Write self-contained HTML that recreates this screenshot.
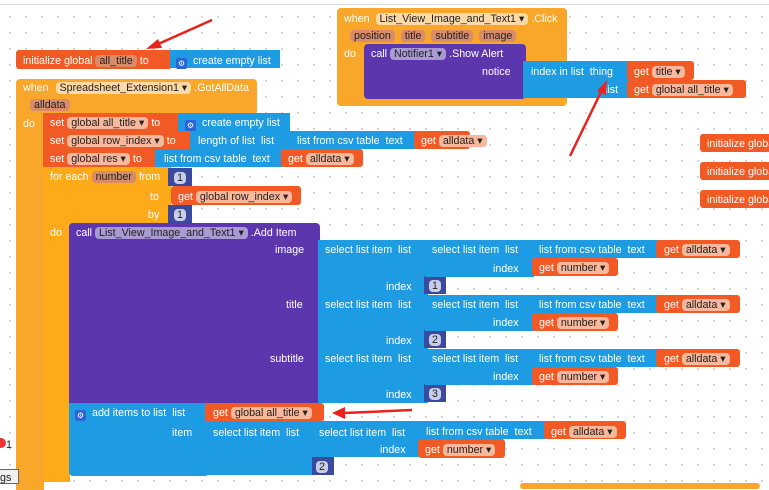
<!DOCTYPE html>
<html><head><meta charset="utf-8"><style>
body{margin:0;width:769px;height:486px;overflow:hidden;background:#fff;position:relative;font-family:"Liberation Sans",sans-serif;font-size:10.7px;color:#fff}
.bg{position:absolute;left:0;top:5px;width:769px;height:481px;background-image:radial-gradient(circle,#cfcfcf 0.9px,transparent 1.2px);background-size:16px 16px;background-position:2px 4px}
.top{position:absolute;left:0;top:4px;width:769px;height:1px;background:#ddd}
div.b{position:absolute;box-sizing:border-box}
.o{background:#f8a72a;border-radius:4px}
.f{background:#ffab19}
.r{background:#f15a24;border-radius:3px}
.u{background:#1e9ce3}
.p{background:#5c36ad;border-radius:4px}
.n{background:#3b4a9e}
.t{position:absolute;white-space:nowrap;line-height:12px;margin-top:1px}
.pl{display:inline-block;padding:0 4px;border-radius:4px;line-height:12px;color:#222}
.po{background:#fdd9a6}.pr{background:#f9b79c}.pp{background:#a99ad4}.pn{background:#c8cde8;color:#222;padding:0 3px}
.pe{background:#d98b6a;color:#222}
.ic{display:inline-block;width:11px;height:11px;background:#2d62d8;border-radius:2px;vertical-align:-2px;margin-right:6px;text-align:center;font-size:8px;line-height:11px}
</style></head><body>
<div class="bg"></div><div class="top"></div>

<div class="b r" style="left:16px;top:50px;width:156px;height:19px"></div>
<div class="t" style="left:23px;top:54px">initialize global <span class="pl pe">all_title</span> to</div>
<div class="b u" style="left:170px;top:50px;width:110px;height:18px"></div>
<div class="t" style="left:176px;top:54px"><span class="ic">⚙</span>create empty list</div>

<div class="b o" style="left:16px;top:79px;width:241px;height:36px"></div>
<div class="b o" style="left:16px;top:100px;width:28px;height:390px;border-radius:0"></div>
<div class="t" style="left:23px;top:81px">when <span class="pl po" style="margin-left:4px">Spreadsheet_Extension1 ▾</span> .GotAllData</div>
<div class="t" style="left:30px;top:98px"><span class="pl pe">alldata</span></div>
<div class="t" style="left:23px;top:117px">do</div>

<div class="b r" style="left:43px;top:113px;width:137px;height:18px;border-radius:0"></div>
<div class="t" style="left:50px;top:116px">set <span class="pl pr">global all_title ▾</span> to</div>
<div class="b u" style="left:178px;top:113px;width:112px;height:18px"></div>
<div class="t" style="left:185px;top:116px"><span class="ic">⚙</span>create empty list</div>

<div class="b r" style="left:43px;top:131px;width:150px;height:18px;border-radius:0"></div>
<div class="t" style="left:50px;top:134px">set <span class="pl pr">global row_index ▾</span> to</div>
<div class="b u" style="left:190px;top:131px;width:102px;height:18px"></div>
<div class="t" style="left:198px;top:134px">length of list &nbsp;list</div>
<div class="b u" style="left:290px;top:131px;width:126px;height:18px"></div>
<div class="t" style="left:297px;top:134px">list from csv table &nbsp;text</div>
<div class="b r" style="left:414px;top:131px;width:56px;height:18px"></div>
<div class="t" style="left:421px;top:134px">get <span class="pl pr">alldata ▾</span></div>

<div class="b r" style="left:43px;top:149px;width:115px;height:18px;border-radius:0"></div>
<div class="t" style="left:50px;top:152px">set <span class="pl pr">global res ▾</span> to</div>
<div class="b u" style="left:155px;top:149px;width:128px;height:18px"></div>
<div class="t" style="left:164px;top:152px">list from csv table &nbsp;text</div>
<div class="b r" style="left:281px;top:149px;width:82px;height:18px"></div>
<div class="t" style="left:288px;top:152px">get <span class="pl pr">alldata ▾</span></div>

<div class="b f" style="left:43px;top:167px;width:128px;height:58px"></div>
<div class="b f" style="left:43px;top:220px;width:27px;height:262px"></div>
<div class="t" style="left:50px;top:170px">for each <span class="pl pe">number</span> from</div>
<div class="b n" style="left:168px;top:168px;width:24px;height:18px"></div>
<div class="t" style="left:174px;top:171px"><span class="pl pn">1</span></div>
<div class="t" style="left:150px;top:190px">to</div>
<div class="b r" style="left:171px;top:186px;width:130px;height:19px"></div>
<div class="t" style="left:178px;top:190px">get <span class="pl pr">global row_index ▾</span></div>
<div class="t" style="left:148px;top:208px">by</div>
<div class="b n" style="left:168px;top:205px;width:24px;height:18px"></div>
<div class="t" style="left:174px;top:208px"><span class="pl pn">1</span></div>
<div class="t" style="left:50px;top:226px">do</div>

<div class="b p" style="left:69px;top:223px;width:251px;height:182px;border-radius:4px 4px 0 0"></div>
<div class="t" style="left:76px;top:226px">call <span class="pl pp">List_View_Image_and_Text1 ▾</span> .Add Item</div>
<div class="t" style="left:275px;top:243px">image</div>
<div class="t" style="left:286px;top:298px">title</div>
<div class="t" style="left:270px;top:352px">subtitle</div>

<div class="b u" style="left:318px;top:240px;width:110px;height:55px"></div>
<div class="t" style="left:325px;top:243px">select list item &nbsp;list</div>
<div class="t" style="left:386px;top:280px">index</div>
<div class="b n" style="left:424px;top:276px;width:22px;height:18px"></div><div class="t" style="left:429px;top:279px"><span class="pl pn">1</span></div>
<div class="b u" style="left:425px;top:240px;width:109px;height:37px"></div>
<div class="t" style="left:432px;top:243px">select list item &nbsp;list</div>
<div class="t" style="left:493px;top:262px">index</div>
<div class="b u" style="left:532px;top:240px;width:127px;height:18px"></div>
<div class="t" style="left:539px;top:243px">list from csv table &nbsp;text</div>
<div class="b r" style="left:656px;top:240px;width:84px;height:18px"></div>
<div class="t" style="left:664px;top:243px">get <span class="pl pr">alldata ▾</span></div>
<div class="b r" style="left:532px;top:258px;width:86px;height:18px"></div>
<div class="t" style="left:539px;top:261px">get <span class="pl pr">number ▾</span></div>

<div class="b u" style="left:318px;top:295px;width:110px;height:54px"></div>
<div class="t" style="left:325px;top:298px">select list item &nbsp;list</div>
<div class="t" style="left:386px;top:334px">index</div>
<div class="b n" style="left:424px;top:330px;width:22px;height:18px"></div><div class="t" style="left:429px;top:333px"><span class="pl pn">2</span></div>
<div class="b u" style="left:425px;top:295px;width:109px;height:36px"></div>
<div class="t" style="left:432px;top:298px">select list item &nbsp;list</div>
<div class="t" style="left:493px;top:316px">index</div>
<div class="b u" style="left:532px;top:295px;width:127px;height:18px"></div>
<div class="t" style="left:539px;top:298px">list from csv table &nbsp;text</div>
<div class="b r" style="left:656px;top:295px;width:84px;height:18px"></div>
<div class="t" style="left:664px;top:298px">get <span class="pl pr">alldata ▾</span></div>
<div class="b r" style="left:532px;top:313px;width:86px;height:18px"></div>
<div class="t" style="left:539px;top:316px">get <span class="pl pr">number ▾</span></div>

<div class="b u" style="left:318px;top:349px;width:110px;height:54px"></div>
<div class="t" style="left:325px;top:352px">select list item &nbsp;list</div>
<div class="t" style="left:386px;top:388px">index</div>
<div class="b n" style="left:424px;top:384px;width:22px;height:18px"></div><div class="t" style="left:429px;top:387px"><span class="pl pn">3</span></div>
<div class="b u" style="left:425px;top:349px;width:109px;height:36px"></div>
<div class="t" style="left:432px;top:352px">select list item &nbsp;list</div>
<div class="t" style="left:493px;top:370px">index</div>
<div class="b u" style="left:532px;top:349px;width:127px;height:18px"></div>
<div class="t" style="left:539px;top:352px">list from csv table &nbsp;text</div>
<div class="b r" style="left:656px;top:349px;width:84px;height:18px"></div>
<div class="t" style="left:664px;top:352px">get <span class="pl pr">alldata ▾</span></div>
<div class="b r" style="left:532px;top:367px;width:86px;height:18px"></div>
<div class="t" style="left:539px;top:370px">get <span class="pl pr">number ▾</span></div>

<div class="b u" style="left:69px;top:403px;width:140px;height:73px;border-radius:0 0 4px 4px"></div>
<div class="t" style="left:75px;top:406px"><span class="ic">⚙</span>add items to list &nbsp;list</div>
<div class="b r" style="left:205px;top:403px;width:119px;height:19px"></div>
<div class="t" style="left:213px;top:406px">get <span class="pl pr">global all_title ▾</span></div>
<div class="t" style="left:172px;top:426px">item</div>
<div class="t" style="left:274px;top:461px">index</div>
<div class="b u" style="left:205px;top:421px;width:110px;height:54px"></div>
<div class="t" style="left:213px;top:426px">select list item &nbsp;list</div>
<div class="b n" style="left:312px;top:457px;width:22px;height:18px"></div><div class="t" style="left:316px;top:460px"><span class="pl pn">2</span></div>
<div class="b u" style="left:312px;top:421px;width:110px;height:36px"></div>
<div class="t" style="left:319px;top:426px">select list item &nbsp;list</div>
<div class="t" style="left:380px;top:443px">index</div>
<div class="b u" style="left:419px;top:421px;width:127px;height:18px"></div>
<div class="t" style="left:426px;top:425px">list from csv table &nbsp;text</div>
<div class="b r" style="left:544px;top:421px;width:82px;height:18px"></div>
<div class="t" style="left:551px;top:425px">get <span class="pl pr">alldata ▾</span></div>
<div class="b r" style="left:418px;top:439px;width:87px;height:19px"></div>
<div class="t" style="left:425px;top:443px">get <span class="pl pr">number ▾</span></div>

<div class="b o" style="left:337px;top:8px;width:230px;height:98px"></div>
<div class="t" style="left:344px;top:12px">when <span class="pl po" style="margin-left:3px">List_View_Image_and_Text1 ▾</span> .Click</div>
<div class="t" style="left:350px;top:29px"><span class="pl pe">position</span> &nbsp;<span class="pl pe">title</span> &nbsp;<span class="pl pe">subtitle</span> &nbsp;<span class="pl pe">image</span></div>
<div class="t" style="left:344px;top:47px">do</div>
<div class="b p" style="left:364px;top:44px;width:162px;height:55px"></div>
<div class="t" style="left:371px;top:47px">call <span class="pl pp">Notifier1 ▾</span> .Show Alert</div>
<div class="t" style="left:482px;top:65px">notice</div>
<div class="b u" style="left:523px;top:61px;width:107px;height:37px"></div>
<div class="t" style="left:531px;top:65px">index in list &nbsp;thing</div>
<div class="t" style="left:605px;top:83px">list</div>
<div class="b r" style="left:627px;top:61px;width:67px;height:19px"></div>
<div class="t" style="left:634px;top:65px">get <span class="pl pr">title ▾</span></div>
<div class="b r" style="left:627px;top:80px;width:119px;height:18px"></div>
<div class="t" style="left:634px;top:83px">get <span class="pl pr">global all_title ▾</span></div>

<div class="b r" style="left:700px;top:134px;width:80px;height:18px"></div><div class="t" style="left:707px;top:137px">initialize global</div>
<div class="b r" style="left:700px;top:162px;width:80px;height:18px"></div><div class="t" style="left:707px;top:165px">initialize global</div>
<div class="b r" style="left:700px;top:190px;width:80px;height:18px"></div><div class="t" style="left:707px;top:193px">initialize global</div>
<div class="b o" style="left:520px;top:483px;width:240px;height:6px;border-radius:3px"></div>

<div class="b" style="left:-10px;top:469px;width:29px;height:15px;background:#f0f0f0;border:1px solid #666"></div>
<div class="t" style="left:0;top:471px;color:#222">gs</div>
<div class="b" style="left:-4px;top:438px;width:10px;height:10px;border-radius:50%;background:#e33"></div>
<div class="t" style="left:6px;top:438px;color:#222">1</div>

<svg width="769" height="486" style="position:absolute;left:0;top:0">
<g stroke="#e8221c" stroke-width="2.5" fill="#e8221c">
<line x1="212" y1="20" x2="156" y2="45"/><polygon points="146,49 158,39 162,48" stroke="none"/>
<line x1="570" y1="156" x2="602" y2="90"/><polygon points="607,80 606,95 597,91" stroke="none"/>
<line x1="412" y1="410" x2="344" y2="413"/><polygon points="332,413 345,407 345,419" stroke="none"/>
</g></svg>
</body></html>
